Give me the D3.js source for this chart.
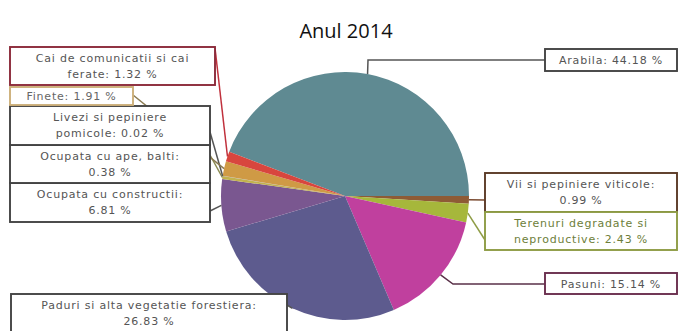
<!DOCTYPE html>
<html><head><meta charset="utf-8">
<script src="https://cdn.jsdelivr.net/npm/d3@7"></script>
<style>body{margin:0;background:#fff;}svg{display:block;}</style>
</head><body>
<script>
// ---- data ----
const title = "Anul 2014";
const categories = ["Arabila","Vii si pepiniere viticole","Terenuri degradate si neproductive","Pasuni","Paduri si alta vegetatie forestiera","Ocupata cu constructii","Ocupata cu ape, balti","Livezi si pepiniere pomicole","Finete","Cai de comunicatii si cai ferate"];
const values = [44.18, 0.99, 2.43, 15.14, 26.83, 6.81, 0.38, 0.02, 1.91, 1.32];
const labelLines = [
  ["Arabila: 44.18 %"],
  ["Vii si pepiniere viticole:","0.99  %"],
  ["Terenuri degradate si","neproductive: 2.43 %"],
  ["Pasuni: 15.14 %"],
  ["Paduri si alta vegetatie forestiera:","26.83 %"],
  ["Ocupata cu constructii:","6.81 %"],
  ["Ocupata cu ape, balti:","0.38  %"],
  ["Livezi si pepiniere","pomicole: 0.02  %"],
  ["Finete: 1.91 %"],
  ["Cai de comunicatii si cai","ferate: 1.32 %"]
];
// ---- styles ----
const colors = ["#5f8a92","#8e5b35","#a6b73b","#c0409e","#5d5b8e","#7a5790","#c2b24e","#9aa0b0","#cf9a45","#d8463e"];
const borderColors = ["#444","#5b3a26","#8e9c45","#6a2f4e","#444","#444","#444","#444","#cdb07a","#8c2a3a"];
const lineColors = ["#555","#7a4a30","#8e9c45","#5a3048","#555","#555","#8a8a50","#555","#8a7a50","#c0303c"];
const textColors = ["#555","#555","#6d7e3a","#555","#555","#555","#555","#555","#666","#555"];
// ---- layout of label boxes: [x, y, w, h, anchorX, anchorY, elbowX, elbowY]
const boxes = [
  [545, 49, 132, 22, 545, 60, 368, 60],
  [485, 173, 192, 39, 485, 200, null, null],
  [485, 212, 192, 38, 485, 240, null, null],
  [545, 273, 132, 21, 545, 284, 453, 284],
  [11, 294, 276, 40, 287, 305, null, null],
  [10, 183, 200, 39, 210, 211, null, null],
  [10, 145, 200, 38, 210, 155, null, null],
  [10, 106, 200, 39, 210, 132, null, null],
  [10, 87, 123, 18, 133, 95, null, null],
  [10, 47, 205, 38, 215, 48, null, null]
];

const W = 678, H = 331, cx = 345, cy = 196, R = 124;
const svg = d3.select("body").append("svg").attr("width", W).attr("height", H);

svg.append("text").attr("x", 346).attr("y", 38).attr("text-anchor","middle")
  .attr("font-family","Open Sans, sans-serif").attr("font-size", 20).attr("fill","#111")
  .text(title);

const total = d3.sum(values);
const start = Math.PI/2 - values[0]/total*2*Math.PI;
const pie = d3.pie().sort(null).value(d=>d).startAngle(start).endAngle(start + 2*Math.PI);
const arcs = pie(values);
const arc = d3.arc().innerRadius(0).outerRadius(R);

const g = svg.append("g").attr("transform", `translate(${cx},${cy})`);
g.selectAll("path").data(arcs).join("path")
  .attr("d", arc).attr("fill", (d,i)=>colors[i]);

// leader lines
const lines = svg.append("g");
arcs.forEach((d,i)=>{
  const a = (d.startAngle + d.endAngle)/2;
  const px = cx + Math.sin(a)*R, py = cy - Math.cos(a)*R;
  const b = boxes[i];
  const pts = [[px,py]];
  if (b[6] !== null) pts.push([b[6], b[7]]);
  pts.push([b[4], b[5]]);
  lines.append("path").attr("d", d3.line()(pts)).attr("fill","none")
    .attr("stroke", lineColors[i]).attr("stroke-width", 1.5);
});

// label boxes
const lab = svg.append("g");
boxes.forEach((b,i)=>{
  lab.append("rect").attr("x", b[0]).attr("y", b[1]).attr("width", b[2]).attr("height", b[3])
    .attr("fill","#fff").attr("stroke", borderColors[i]).attr("stroke-width", 1.9);
  const ls = labelLines[i];
  const t = lab.append("text").attr("text-anchor","middle")
    .attr("font-family","DejaVu Sans, sans-serif").attr("font-size", 11)
    .attr("letter-spacing", 0.8).attr("fill", textColors[i]);
  const firstY = ls.length === 1 ? b[1] + b[3]/2 + 4 : b[1] + 15;
  ls.forEach((s,k)=>{
    t.append("tspan").attr("x", b[0] + b[2]/2).attr("y", firstY + k*16).text(s);
  });
});
</script>
</body></html>
